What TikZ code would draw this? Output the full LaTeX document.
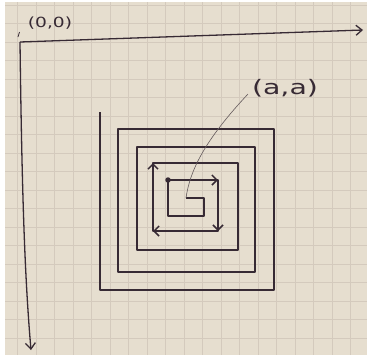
\documentclass[tikz,border=0pt]{standalone}
\usepackage{fontspec}
\newfontfamily\handfont{DejaVu Sans}
\usepackage{tikz}
\usetikzlibrary{arrows.meta}
\definecolor{paper}{RGB}{230,222,207}
\definecolor{gridline}{RGB}{212,202,189}
\definecolor{pen}{RGB}{55,42,52}
\definecolor{pencil}{RGB}{100,90,92}

\begin{document}
\begin{tikzpicture}[x=1pt, y=-1pt,
    axis/.style={pen, line width=1.3pt, -{Straight Barb[length=6pt,width=10pt]}},
    ring/.style={pen, line width=1.5pt, line join=round},
    turn/.style={pen, line width=1.5pt, -{Straight Barb[length=5pt,width=10pt]}},
    lbl/.style={pen, inner sep=0pt},
    leader/.style={pencil, line width=0.6pt}
]
\useasboundingbox (0,0) rectangle (369,357);

% paper
\fill[white] (0,0) rectangle (369,357);
\fill[paper] (5,2) rectangle (367,355);
\foreach \gx in {17.5,36,...,366} \draw[gridline, line width=0.6pt] (\gx,2) -- (\gx,355);
\foreach \gy in {5,23.5,...,355} \draw[gridline, line width=0.6pt] (5,\gy) -- (367,\gy);

% axes
\coordinate (O) at (20,42);
\coordinate (xend) at (363,30);
\coordinate (yend) at (31,350);
\draw[axis] (O) -- (xend);
\draw[axis] (O) .. controls (22,200) and (25,280) .. (yend);
\node[lbl, font=\handfont\fontsize{14}{14}\selectfont] (orig) at (50,23.5) {\scalebox{1.33}[1]{(0,0)}};
\draw[pen, line width=0.8pt] (18,37) -- (19.5,32);

% spiral
\coordinate (c0) at (186,198);
\coordinate (c1) at (204,198);
\coordinate (c2) at (204,216);
\coordinate (c3) at (168,216);
\coordinate (s) at (168,180);
\coordinate (r1) at (218,180);
\coordinate (r2) at (218,231);
\coordinate (r3) at (153,231);
\coordinate (r4) at (153,163);
\coordinate (r5) at (238,163);
\coordinate (r6) at (238,250);
\coordinate (r7) at (137,250);
\coordinate (r8) at (137,147);
\coordinate (r9) at (255,147);
\coordinate (r10) at (255,272);
\coordinate (r11) at (118,272);
\coordinate (r12) at (118,129);
\coordinate (r13) at (274,129);
\coordinate (r14) at (274,290);
\coordinate (r15) at (100,290);
\coordinate (r16) at (100,112);
\draw[ring] (c0) -- (c1) -- (c2) -- (c3) -- (s) -- (r1) -- (r2) -- (r3) -- (r4) -- (r5) -- (r6)
  -- (r7) -- (r8) -- (r9) -- (r10) -- (r11) -- (r12) -- (r13) -- (r14) -- (r15) -- (r16);
\draw[turn] (s) -- (r1);
\draw[turn] (r1) -- (r2);
\draw[turn] (r2) -- (r3);
\draw[turn] (r3) -- (r4);
\node[circle, fill=pen, inner sep=0pt, minimum size=5.5pt] (dot) at (s) {};

% the point (a,a)
\node[lbl, font=\handfont\fontsize{20}{20}\selectfont] (aa) at (285,88) {\scalebox{1.42}[1]{(a,a)}};
\coordinate (lead) at (248,94);
\draw[leader] (lead) .. controls (205,140) and (190,170) .. (c0);

\end{tikzpicture}
\end{document}
